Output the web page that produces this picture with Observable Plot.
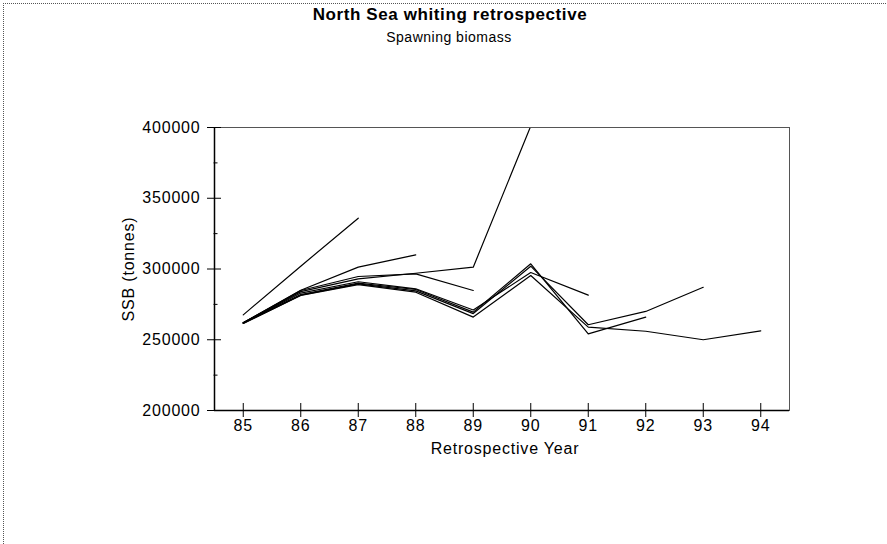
<!DOCTYPE html>
<html>
<head>
<meta charset="utf-8">
<script src="https://cdn.jsdelivr.net/npm/d3@7"></script>
<script src="https://cdn.jsdelivr.net/npm/@observablehq/plot@0.6"></script>
<style>
  html, body { margin: 0; padding: 0; background: #fff; }
  #wrap { position: relative; width: 887px; height: 544px; overflow: hidden; font-family: "Liberation Sans", Arial, sans-serif; }
  #border { position: absolute; left: 3px; top: 3px; width: 900px; height: 600px; border-top: 1px dotted #555; border-left: 1px dotted #555; }
  #title { position: absolute; left: 0; width: 900px; top: 5px; text-align: center; font-size: 17px; font-weight: bold; letter-spacing: 0.6px; color: #000; }
  #subtitle { position: absolute; left: 0; width: 898px; top: 29px; text-align: center; font-size: 14px; letter-spacing: 0.5px; color: #000; }
  #chart { position: absolute; left: 0; top: 0; }
  #chart svg text { letter-spacing: 0.8px; }
</style>
</head>
<body>
<div id="wrap">
  <div id="border"></div>
  <div id="title">North Sea whiting retrospective</div>
  <div id="subtitle">Spawning biomass</div>
  <div id="chart"></div>
</div>
<script>
// Retrospective Year tick labels
const years = [85, 86, 87, 88, 89, 90, 91, 92, 93, 94];
const yMajor = [200000, 250000, 300000, 350000, 400000];
const yMinor = [225000, 275000, 325000, 375000];

// SSB (tonnes) by assessment run (terminal year), starting at year 85
const run87 = [267600, 302000, 335900];
const run88 = [262000, 285000, 301300, 310000];
const run89 = [262000, 284800, 294700, 296600, 284800];
const run90 = [262000, 284000, 293000, 297000, 301300, 401000];
const run91 = [262000, 283000, 291000, 286000, 271000, 297500, 281500];
const run92 = [262000, 282000, 290000, 285500, 269500, 303700, 254200, 266000];
const run93 = [261500, 281500, 289500, 284500, 268500, 302000, 260600, 270000, 287100];
const run94 = [261500, 281300, 289000, 283600, 266000, 295400, 258900, 256000, 250000, 256300];

const runs = { run87, run88, run89, run90, run91, run92, run93, run94 };
const data = Object.entries(runs).flatMap(([name, vals]) =>
  vals.map((v, i) => ({ run: name, year: years[i], ssb: v }))
);

const chart = Plot.plot({
  width: 887,
  height: 544,
  marginLeft: 214,
  marginRight: 98,
  marginTop: 127,
  marginBottom: 134,
  style: { fontFamily: "'Liberation Sans', Arial, sans-serif", fontSize: "16px", color: "#000", background: "transparent" },
  x: { type: "linear", domain: [84.5, 94.5] },
  y: { domain: [200000, 400000] },
  marks: [
    Plot.line(data, { x: "year", y: "ssb", z: "run", stroke: "#000", strokeWidth: 1.2, clip: true }),
    Plot.frame({ stroke: "#555", strokeWidth: 1 }),
    Plot.ruleX([84.5], { stroke: "#000", strokeWidth: 1.5 }),
    Plot.ruleY([200000], { stroke: "#000", strokeWidth: 1.3 }),
    // crossing major ticks
    Plot.axisY(yMajor, { tickSize: 14, dx: 7, tickFormat: () => "", label: null, stroke: "#000" }),
    Plot.axisY(yMinor, { tickSize: 4, dx: 3.5, tickFormat: () => "", label: null, stroke: "#000" }),
    Plot.axisY(yMajor, { tickSize: 0, tickPadding: 14, tickFormat: d => String(d), label: null, fontSize: 16 }),
    Plot.axisX(years, { tickSize: 14, dy: -7, tickFormat: () => "", label: null, stroke: "#000" }),
    Plot.axisX(years, { tickSize: 0, tickPadding: 9, tickFormat: d => String(d), label: null, fontSize: 16 }),
    Plot.text(["Retrospective Year"], { frameAnchor: "bottom", dy: 38, dx: 3, text: d => d, fontSize: 16, lineAnchor: "middle" }),
    Plot.text(["SSB (tonnes)"], { frameAnchor: "left", dx: -86, rotate: -90, text: d => d, fontSize: 16, textAnchor: "middle", lineAnchor: "middle" })
  ]
});
document.getElementById("chart").appendChild(chart);
</script>
</body>
</html>
